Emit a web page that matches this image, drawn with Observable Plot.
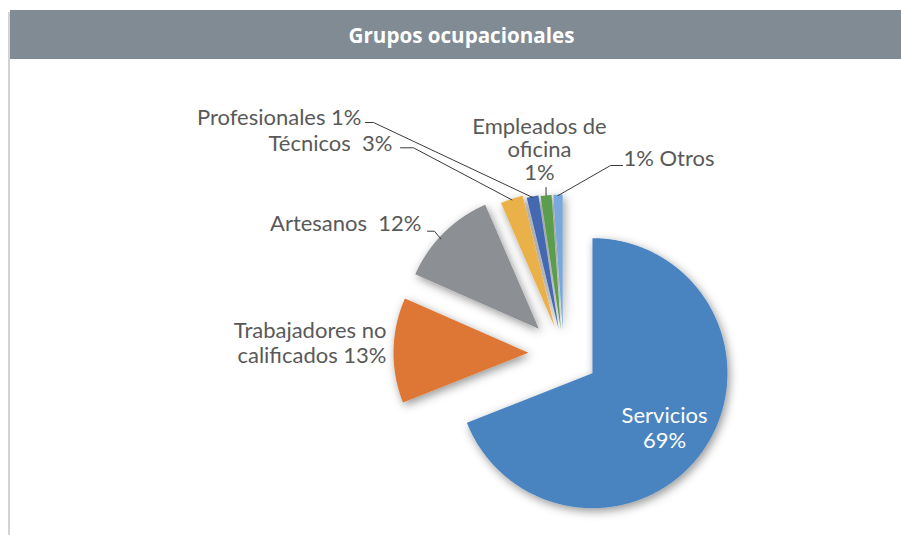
<!DOCTYPE html>
<html><head><meta charset="utf-8">
<script src="https://cdn.jsdelivr.net/npm/d3@7"></script>
<script src="https://cdn.jsdelivr.net/npm/@observablehq/plot@0.6"></script>
<style>
html,body{margin:0;padding:0;background:#fff;}
#wrap{position:relative;width:901px;height:535px;overflow:hidden;background:#fff;}
#frame{position:absolute;left:8px;top:12px;width:2px;height:523px;background:#d3d3d3;}
#title{position:absolute;left:10px;top:10px;width:891px;height:49px;background:#808b93;color:#fff;
  font:bold 20.6px "Open Sans",sans-serif;display:flex;align-items:center;justify-content:center;
  padding-left:12px;box-sizing:border-box;}
#chart{position:absolute;left:0;top:59px;}
</style></head><body>
<div id="wrap"><div id="frame"></div><div id="title">Grupos ocupacionales</div><div id="chart"></div></div>
<script>
// ---- data ----
const categories = ["Servicios", "Trabajadores no calificados", "Artesanos", "Técnicos", "Profesionales", "Empleados de oficina", "Otros"];
const shares = [69.0, 12.6, 11.9, 2.7, 1.4, 1.3, 1.1];

// ---- style ----
const colors = ["#4a84c1", "#de7736", "#8c8f93", "#ebb14a", "#4568b3", "#5c9c4e", "#78a8dc"];

// ---- layout (pixels) ----
const W = 901, H = 476;
const C = {x: 563, y: 294}, R = 135;
const explode = {"Servicios": 35, "Trabajadores no calificados": 35, "Artesanos": 35, "Técnicos": 28, "Profesionales": 25, "Empleados de oficina": 24, "Otros": 24};
const labelLayout = {
  "Servicios": {x: 664, y: 368, anchor: "middle", lh: 1.14, fill: "#ffffff", fmt: (n, p) => `${n}\n${p}%`},
  "Trabajadores no calificados": {x: 386, y: 283, anchor: "end", lh: 1.14, fmt: (n, p) => `${n.replace(" no ", " no\n")} ${p}%`},
  "Artesanos": {x: 421, y: 164, anchor: "end", lh: 1, fmt: (n, p) => `${n}  ${p}%`, leader: [[427, 171.7], [434, 171.7]], la: -2.7, lr: 133},
  "Técnicos": {x: 392, y: 84, anchor: "end", lh: 1, fmt: (n, p) => `${n}  ${p}%`, leader: [[400, 88.3], [413, 88.3]], la: 0, lr: 134},
  "Profesionales": {x: 361, y: 58, anchor: "end", lh: 1, fmt: (n, p) => `${n} ${p}%`, leader: [[365, 63], [373, 63]], la: 0, lr: 134},
  "Empleados de oficina": {x: 539, y: 90, anchor: "middle", lh: 1.06, fmt: (n, p) => `${n.replace("de ", "de\n")}\n${p}%`, leader: [[null, 128]], la: 0, lr: 135},
  "Otros": {x: 623, y: 99, anchor: "start", lh: 1, fmt: (n, p) => `${p}% ${n}`, leader: [[622, 106], [610, 106]], la: 0, lr: 134}
};

// ---- geometry from data ----
const deg = Math.PI / 180;
const u = a => [Math.sin(a), -Math.cos(a)];
const arcs = d3.pie().sort(null).value(d => d)(shares);
const sliceRows = [];
const apex = {};
arcs.forEach((a, i) => {
  const cat = categories[i];
  const mid = (a.startAngle + a.endAngle) / 2;
  const [ux, uy] = u(mid);
  const ax = C.x + explode[cat] * ux, ay = C.y + explode[cat] * uy;
  apex[cat] = {x: ax, y: ay, mid};
  sliceRows.push({cat, x: ax, y: ay});
  const n = Math.max(2, Math.ceil((a.endAngle - a.startAngle) / (0.25 * deg)));
  for (let k = 0; k <= n; k++) {
    const t = a.startAngle + (a.endAngle - a.startAngle) * k / n;
    const [vx, vy] = u(t);
    sliceRows.push({cat, x: ax + R * vx, y: ay + R * vy});
  }
});

const labels = categories.map((cat, i) => {
  const L = labelLayout[cat];
  return {cat, x: L.x, y: L.y, text: L.fmt(cat, Math.round(shares[i])), L};
});

const leaderRows = [];
categories.forEach(cat => {
  const L = labelLayout[cat];
  if (!L.leader) return;
  const A = apex[cat];
  const [vx, vy] = u(A.mid + L.la * deg);
  const end = {x: A.x + L.lr * vx, y: A.y + L.lr * vy};
  L.leader.forEach(([px, py]) => leaderRows.push({cat, x: px == null ? end.x : px, y: py}));
  leaderRows.push({cat, x: end.x, y: end.y});
});

const svg = Plot.plot({
  width: W, height: H, margin: 0,
  x: {type: "linear", domain: [0, W], range: [0, W], axis: null},
  y: {type: "linear", domain: [0, H], range: [0, H], axis: null},
  color: {type: "ordinal", domain: categories, range: colors},
  marks: [
    Plot.line(sliceRows, {x: "x", y: "y", z: "cat", fill: "cat", stroke: "none", curve: "linear"}),
    Plot.line(leaderRows, {x: "x", y: "y", z: "cat", stroke: "#3a3a3a", strokeWidth: 1, curve: "linear"}),
    ...labels.map(d => Plot.text([d], {
      x: "x", y: "y", text: "text", textAnchor: d.L.anchor, lineHeight: d.L.lh,
      fill: d.L.fill || "#595959", fontSize: 22, fontFamily: "Lato"
    }))
  ]
});

// soft drop shadow under the slices
const s = d3.select(svg);
const defs = s.insert("defs", ":first-child");
const f = defs.append("filter").attr("id", "sliceShadow")
  .attr("x", "-20%").attr("y", "-20%").attr("width", "140%").attr("height", "140%");
f.append("feDropShadow").attr("dx", 2).attr("dy", 3).attr("stdDeviation", 5)
  .attr("flood-color", "#000").attr("flood-opacity", 0.42);
s.select('g[aria-label="line"]').attr("filter", "url(#sliceShadow)");

document.getElementById("chart").appendChild(svg);
</script>
</body></html>
